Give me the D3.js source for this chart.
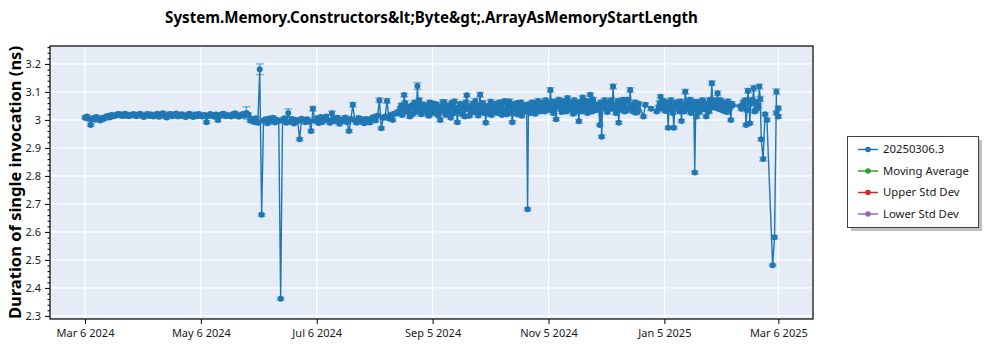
<!DOCTYPE html>
<html>
<head>
<meta charset="utf-8">
<script src="https://cdn.jsdelivr.net/npm/d3@7"></script>
<style>
  html, body { margin: 0; padding: 0; background: #ffffff; }
  svg { display: block; font-family: "Noto Sans", "Open Sans", "DejaVu Sans", sans-serif; }
</style>
</head>
<body>
<svg id="chart" width="1000" height="350"></svg>
<script>
// ---- chart text ----
const chartTitle = "System.Memory.Constructors&lt;Byte&gt;.ArrayAsMemoryStartLength";
const yAxisTitle = "Duration of single invocation (ns)";
const legendLabels = ["20250306.3", "Moving Average", "Upper Std Dev", "Lower Std Dev"];
const legendColors = ["#1f77b4", "#2ca02c", "#d62728", "#9467bd"];

// ---- axis ticks ----
const xTickDates = ["2024-03-06", "2024-05-06", "2024-07-06", "2024-09-05", "2024-11-05", "2025-01-05", "2025-03-06"];
const yTickValues = [2.3, 2.4, 2.5, 2.6, 2.7, 2.8, 2.9, 3.0, 3.1, 3.2];

// ---- morning benchmark runs: date, mean duration (ns), error (ns); one line per month ----
const runDates = [
  "2024-03-06","2024-03-07","2024-03-08","2024-03-09","2024-03-10","2024-03-11","2024-03-12","2024-03-13","2024-03-14","2024-03-15","2024-03-16","2024-03-17","2024-03-18","2024-03-19","2024-03-20","2024-03-21","2024-03-22","2024-03-23","2024-03-24","2024-03-25","2024-03-26","2024-03-27","2024-03-28","2024-03-29","2024-03-30","2024-03-31",
  "2024-04-01","2024-04-02","2024-04-03","2024-04-04","2024-04-05","2024-04-06","2024-04-07","2024-04-08","2024-04-09","2024-04-10","2024-04-11","2024-04-12","2024-04-13","2024-04-14","2024-04-15","2024-04-16","2024-04-17","2024-04-18","2024-04-19","2024-04-20","2024-04-21","2024-04-22","2024-04-23","2024-04-24","2024-04-25","2024-04-26","2024-04-27","2024-04-28","2024-04-29","2024-04-30",
  "2024-05-01","2024-05-02","2024-05-03","2024-05-04","2024-05-05","2024-05-06","2024-05-07","2024-05-08","2024-05-09","2024-05-10","2024-05-11","2024-05-12","2024-05-13","2024-05-14","2024-05-15","2024-05-16","2024-05-17","2024-05-18","2024-05-19","2024-05-20","2024-05-21","2024-05-22","2024-05-23","2024-05-24","2024-05-25","2024-05-26","2024-05-27","2024-05-28","2024-05-29","2024-05-30","2024-05-31",
  "2024-06-01","2024-06-02","2024-06-03","2024-06-04","2024-06-05","2024-06-06","2024-06-07","2024-06-08","2024-06-09","2024-06-10","2024-06-11","2024-06-12","2024-06-13","2024-06-14","2024-06-15","2024-06-16","2024-06-17","2024-06-18","2024-06-19","2024-06-20","2024-06-21","2024-06-22","2024-06-23","2024-06-24","2024-06-25","2024-06-26","2024-06-27","2024-06-28","2024-06-29","2024-06-30",
  "2024-07-01","2024-07-02","2024-07-03","2024-07-04","2024-07-05","2024-07-06","2024-07-07","2024-07-08","2024-07-09","2024-07-10","2024-07-11","2024-07-12","2024-07-13","2024-07-14","2024-07-15","2024-07-16","2024-07-17","2024-07-18","2024-07-19","2024-07-20","2024-07-21","2024-07-22","2024-07-23","2024-07-24","2024-07-25","2024-07-26","2024-07-27","2024-07-28","2024-07-29","2024-07-30","2024-07-31",
  "2024-08-01","2024-08-02","2024-08-03","2024-08-04","2024-08-05","2024-08-06","2024-08-07","2024-08-08","2024-08-09","2024-08-10","2024-08-11","2024-08-12","2024-08-13","2024-08-14","2024-08-15","2024-08-16","2024-08-17","2024-08-18","2024-08-19","2024-08-20","2024-08-21","2024-08-22","2024-08-23","2024-08-24","2024-08-25","2024-08-26","2024-08-27","2024-08-28","2024-08-29","2024-08-30","2024-08-31",
  "2024-09-01","2024-09-02","2024-09-03","2024-09-04","2024-09-05","2024-09-06","2024-09-07","2024-09-08","2024-09-09","2024-09-10","2024-09-11","2024-09-12","2024-09-13","2024-09-14","2024-09-15","2024-09-16","2024-09-17","2024-09-18","2024-09-19","2024-09-20","2024-09-21","2024-09-22","2024-09-23","2024-09-24","2024-09-25","2024-09-26","2024-09-27","2024-09-28","2024-09-29","2024-09-30",
  "2024-10-01","2024-10-02","2024-10-03","2024-10-04","2024-10-05","2024-10-06","2024-10-07","2024-10-08","2024-10-09","2024-10-10","2024-10-11","2024-10-12","2024-10-13","2024-10-14","2024-10-15","2024-10-16","2024-10-17","2024-10-18","2024-10-19","2024-10-20","2024-10-21","2024-10-22","2024-10-23","2024-10-24","2024-10-25","2024-10-26","2024-10-27","2024-10-28","2024-10-29","2024-10-30","2024-10-31",
  "2024-11-01","2024-11-02","2024-11-03","2024-11-04","2024-11-05","2024-11-06","2024-11-07","2024-11-08","2024-11-09","2024-11-10","2024-11-11","2024-11-12","2024-11-13","2024-11-14","2024-11-15","2024-11-16","2024-11-17","2024-11-18","2024-11-19","2024-11-20","2024-11-21","2024-11-22","2024-11-23","2024-11-24","2024-11-25","2024-11-26","2024-11-27","2024-11-28","2024-11-29","2024-11-30",
  "2024-12-01","2024-12-02","2024-12-03","2024-12-04","2024-12-05","2024-12-06","2024-12-07","2024-12-08","2024-12-09","2024-12-10","2024-12-11","2024-12-12","2024-12-13","2024-12-14","2024-12-15","2024-12-16","2024-12-17","2024-12-18","2024-12-19","2024-12-20","2024-12-21","2024-12-22","2024-12-25","2024-12-26","2024-12-29",
  "2025-01-01","2025-01-02","2025-01-03","2025-01-04","2025-01-05","2025-01-06","2025-01-07","2025-01-08","2025-01-09","2025-01-10","2025-01-11","2025-01-12","2025-01-13","2025-01-14","2025-01-15","2025-01-16","2025-01-17","2025-01-18","2025-01-19","2025-01-20","2025-01-21","2025-01-22","2025-01-23","2025-01-24","2025-01-25","2025-01-26","2025-01-27","2025-01-28","2025-01-29","2025-01-30","2025-01-31",
  "2025-02-01","2025-02-02","2025-02-03","2025-02-04","2025-02-05","2025-02-06","2025-02-07","2025-02-08","2025-02-09","2025-02-10","2025-02-14","2025-02-15","2025-02-16","2025-02-17","2025-02-18","2025-02-19","2025-02-20","2025-02-21","2025-02-22","2025-02-23","2025-02-24","2025-02-25","2025-02-26","2025-02-27","2025-02-28",
  "2025-03-03","2025-03-04","2025-03-05","2025-03-05","2025-03-06","2025-03-06"
];
const runMeans = [
  3.008,3.012,3.003,2.982,3.006,3.001,3.010,3.004,2.998,3.007,3.004,3.011,3.014,3.009,3.018,3.013,3.015,3.020,3.021,3.016,3.014,3.022,3.019,3.013,3.016,3.020,
  3.020,3.013,3.018,3.022,3.015,3.010,3.017,3.021,3.014,3.019,3.012,3.016,3.022,3.011,3.018,3.024,3.015,3.009,3.019,3.021,3.013,3.017,3.023,3.012,3.016,3.020,3.014,3.010,3.018,3.022,
  3.015,3.010,3.019,3.013,3.021,3.016,3.012,3.018,2.992,3.014,3.021,3.017,3.011,3.019,3.000,3.015,3.020,3.022,3.013,3.017,3.016,3.012,3.020,3.024,3.015,3.011,3.018,3.021,3.016,3.025,3.019,
  2.998,3.004,2.993,3.006,2.990,3.181,2.661,2.997,3.002,2.988,3.005,2.995,3.008,2.991,3.001,2.996,2.361,2.999,3.006,2.990,3.025,2.994,3.003,2.987,3.000,2.995,2.931,3.004,2.998,2.992,
  3.002,2.994,2.960,3.040,2.997,3.006,2.989,3.010,2.993,3.004,3.012,2.998,2.990,3.024,3.004,2.995,3.008,2.986,3.001,2.996,3.009,2.992,2.960,3.003,3.054,2.998,2.990,3.007,2.994,3.002,2.988,
  3.003,2.996,2.991,3.006,3.010,2.998,3.015,3.070,2.970,3.008,3.012,3.068,3.005,3.018,3.000,3.022,3.024,3.030,3.040,3.018,3.089,3.046,3.032,3.012,3.045,3.055,3.028,3.121,3.070,3.020,3.036,
  3.030,3.048,3.015,3.022,3.058,3.034,3.055,3.026,3.000,3.041,3.062,3.018,3.037,3.049,3.060,3.024,3.028,2.992,3.045,3.033,3.052,3.012,3.088,3.040,3.026,3.058,3.030,3.052,3.016,3.090,
  3.042,3.025,2.990,3.050,3.036,3.018,3.058,3.044,3.025,3.062,3.047,3.030,3.068,3.020,3.031,3.055,2.992,3.039,3.044,3.060,3.027,3.015,3.053,3.035,2.681,3.048,3.040,3.058,3.022,3.035,3.050,
  3.046,3.062,3.030,3.041,3.058,3.107,3.040,3.066,3.002,3.050,3.064,3.028,3.035,3.056,3.078,3.044,3.050,3.022,3.028,3.060,2.995,3.048,3.080,3.036,3.044,3.065,3.090,3.030,3.038,3.055,
  3.052,2.982,2.940,3.045,3.060,3.028,3.038,3.070,3.119,3.042,3.046,2.990,3.058,3.072,3.030,3.034,3.064,3.107,3.040,3.048,3.026,3.030,3.012,3.054,3.040,
  3.030,3.046,3.083,3.055,3.050,3.062,2.972,3.038,3.044,2.972,3.058,3.062,3.030,2.996,3.048,3.101,3.066,3.040,3.025,3.066,2.812,3.012,3.050,3.055,3.070,3.038,3.012,3.046,3.072,3.131,3.044,
  3.048,3.095,3.058,3.036,3.062,3.060,3.028,3.040,3.000,3.052,3.050,3.044,3.045,2.982,3.104,2.988,3.066,3.113,3.035,3.042,3.119,2.931,2.860,3.020,3.000,
  2.481,2.581,3.101,3.025,3.042,3.012
];
const runErrors = [
  0.005,0.006,0.005,0.004,0.006,0.005,0.006,0.005,0.006,0.005,0.006,0.005,0.006,0.005,0.006,0.005,0.006,0.005,0.006,0.005,0.006,0.005,0.006,0.005,0.006,0.005,
  0.006,0.005,0.006,0.005,0.006,0.005,0.006,0.007,0.005,0.006,0.005,0.006,0.005,0.006,0.005,0.006,0.005,0.006,0.005,0.006,0.005,0.006,0.005,0.006,0.005,0.006,0.005,0.006,0.005,0.006,
  0.006,0.005,0.006,0.005,0.006,0.005,0.006,0.005,0.005,0.006,0.005,0.006,0.005,0.006,0.006,0.005,0.006,0.005,0.006,0.005,0.006,0.005,0.006,0.005,0.006,0.005,0.006,0.005,0.007,0.022,0.006,
  0.006,0.005,0.006,0.005,0.006,0.019,0.005,0.006,0.005,0.006,0.005,0.006,0.005,0.006,0.005,0.006,0.005,0.006,0.005,0.006,0.015,0.005,0.006,0.005,0.006,0.005,0.005,0.006,0.005,0.006,
  0.006,0.005,0.005,0.008,0.006,0.005,0.006,0.005,0.006,0.005,0.006,0.005,0.006,0.007,0.005,0.006,0.005,0.006,0.005,0.006,0.005,0.006,0.005,0.006,0.008,0.006,0.005,0.006,0.005,0.006,0.005,
  0.006,0.005,0.006,0.005,0.006,0.005,0.006,0.008,0.005,0.006,0.005,0.008,0.005,0.006,0.005,0.007,0.006,0.006,0.007,0.006,0.006,0.007,0.006,0.006,0.007,0.007,0.006,0.012,0.008,0.006,0.006,
  0.006,0.007,0.006,0.005,0.008,0.006,0.008,0.006,0.006,0.007,0.008,0.005,0.006,0.007,0.008,0.006,0.006,0.005,0.007,0.006,0.007,0.006,0.006,0.007,0.006,0.008,0.006,0.007,0.006,0.008,
  0.007,0.006,0.005,0.007,0.006,0.006,0.008,0.007,0.006,0.008,0.007,0.006,0.006,0.006,0.006,0.008,0.005,0.006,0.007,0.008,0.006,0.006,0.007,0.006,0.005,0.007,0.006,0.008,0.006,0.006,0.007,
  0.007,0.008,0.006,0.006,0.007,0.008,0.006,0.008,0.005,0.007,0.008,0.006,0.006,0.007,0.007,0.006,0.006,0.006,0.005,0.008,0.006,0.007,0.007,0.006,0.006,0.008,0.006,0.006,0.006,0.007,
  0.007,0.005,0.005,0.006,0.007,0.006,0.006,0.008,0.008,0.006,0.006,0.005,0.007,0.007,0.006,0.006,0.008,0.008,0.006,0.006,0.006,0.005,0.005,0.006,0.006,
  0.005,0.006,0.006,0.007,0.007,0.008,0.005,0.006,0.006,0.005,0.007,0.007,0.006,0.005,0.006,0.008,0.007,0.006,0.006,0.008,0.005,0.006,0.007,0.007,0.008,0.006,0.005,0.006,0.007,0.008,0.006,
  0.006,0.008,0.007,0.006,0.008,0.007,0.006,0.006,0.005,0.004,0.004,0.006,0.006,0.005,0.008,0.005,0.007,0.010,0.006,0.006,0.008,0.005,0.006,0.006,0.005,
  0.004,0.006,0.010,0.006,0.006,0.006
];

// ---- afternoon benchmark runs (second build of the day), from mid-August on ----
const pmRunDates = [
  "2024-08-18","2024-08-19","2024-08-20","2024-08-21","2024-08-22","2024-08-23","2024-08-24","2024-08-25","2024-08-26","2024-08-27","2024-08-28","2024-08-29","2024-08-30","2024-08-31",
  "2024-09-01","2024-09-02","2024-09-03","2024-09-04","2024-09-05","2024-09-06","2024-09-07","2024-09-08","2024-09-09","2024-09-10","2024-09-11","2024-09-12","2024-09-13","2024-09-14","2024-09-15","2024-09-16","2024-09-17","2024-09-18","2024-09-19","2024-09-20","2024-09-21","2024-09-22","2024-09-23","2024-09-24","2024-09-25","2024-09-26","2024-09-27","2024-09-28","2024-09-29","2024-09-30",
  "2024-10-01","2024-10-02","2024-10-03","2024-10-04","2024-10-05","2024-10-06","2024-10-07","2024-10-08","2024-10-09","2024-10-10","2024-10-11","2024-10-12","2024-10-13","2024-10-14","2024-10-15","2024-10-16","2024-10-17","2024-10-18","2024-10-19","2024-10-20","2024-10-21","2024-10-22","2024-10-23","2024-10-24","2024-10-25","2024-10-26","2024-10-27","2024-10-28","2024-10-29","2024-10-30","2024-10-31",
  "2024-11-01","2024-11-02","2024-11-03","2024-11-04","2024-11-05","2024-11-06","2024-11-07","2024-11-08","2024-11-09","2024-11-10","2024-11-11","2024-11-12","2024-11-13","2024-11-14","2024-11-15","2024-11-16","2024-11-17","2024-11-18","2024-11-19","2024-11-20","2024-11-21","2024-11-22","2024-11-23","2024-11-24","2024-11-25","2024-11-26","2024-11-27","2024-11-28","2024-11-29","2024-11-30",
  "2024-12-01","2024-12-02","2024-12-03","2024-12-04","2024-12-05","2024-12-06","2024-12-07","2024-12-08","2024-12-09","2024-12-10","2024-12-11","2024-12-12","2024-12-13","2024-12-14","2024-12-15","2024-12-16","2024-12-17","2024-12-18","2024-12-19","2024-12-20","2024-12-21","2024-12-22",
  "2025-01-02","2025-01-03","2025-01-04","2025-01-05","2025-01-06","2025-01-07","2025-01-08","2025-01-09","2025-01-10","2025-01-11","2025-01-12","2025-01-13","2025-01-14","2025-01-15","2025-01-16","2025-01-17","2025-01-18","2025-01-19","2025-01-20","2025-01-21","2025-01-22","2025-01-23","2025-01-24","2025-01-25","2025-01-26","2025-01-27","2025-01-28","2025-01-29","2025-01-30","2025-01-31",
  "2025-02-01","2025-02-02","2025-02-03","2025-02-04","2025-02-05","2025-02-06","2025-02-07","2025-02-08","2025-02-09",
  "2025-02-14","2025-02-15","2025-02-16","2025-02-17","2025-02-18","2025-02-19","2025-02-20","2025-02-21","2025-02-22","2025-02-23","2025-02-24"
];
const pmRunMeans = [
  3.025,3.052,3.038,3.060,3.028,3.044,3.050,3.020,3.062,3.035,3.058,3.042,3.030,3.055,
  3.045,3.020,3.062,3.040,3.028,3.056,3.018,3.048,3.035,3.064,3.025,3.052,3.030,3.008,3.045,3.066,3.040,3.032,3.058,3.020,3.036,3.062,3.044,3.015,3.050,3.038,3.068,3.025,3.046,3.030,
  3.060,3.035,3.048,3.022,3.065,3.040,3.028,3.055,3.045,3.030,3.018,3.064,3.038,3.052,3.066,3.025,3.046,3.058,3.020,3.040,3.062,3.050,3.030,3.045,3.056,3.025,3.062,3.035,3.050,3.068,3.030,
  3.060,3.040,3.070,3.052,3.035,3.064,3.025,3.048,3.058,3.072,3.038,3.055,3.068,3.030,3.046,3.062,3.035,3.070,3.052,3.040,3.064,3.030,3.056,3.068,3.025,3.048,3.060,3.072,3.042,3.035,
  3.040,3.062,3.050,3.070,3.035,3.058,3.066,3.042,3.052,3.025,3.068,3.048,3.036,3.055,3.064,3.072,3.040,3.050,3.030,3.062,3.045,3.058,
  3.060,3.040,3.068,3.032,3.055,3.045,3.070,3.025,3.050,3.062,3.038,3.066,3.052,3.030,3.058,3.046,3.072,3.035,3.055,3.040,3.064,3.028,3.050,3.066,3.042,3.058,3.030,3.062,3.048,3.070,
  3.062,3.040,3.070,3.050,3.032,3.055,3.066,3.045,3.058,
  3.040,3.062,3.070,3.035,3.066,3.058,3.072,3.030,3.064,3.050,3.075
];
const pmRunErrors = [
  0.006,0.007,0.006,0.008,0.006,0.007,0.006,0.005,0.008,0.006,0.007,0.006,0.006,0.007,
  0.006,0.005,0.008,0.006,0.006,0.007,0.005,0.007,0.006,0.008,0.006,0.007,0.006,0.005,0.006,0.008,0.006,0.006,0.007,0.005,0.006,0.008,0.006,0.005,0.007,0.006,0.008,0.006,0.007,0.006,
  0.008,0.006,0.007,0.005,0.008,0.006,0.006,0.007,0.006,0.006,0.005,0.008,0.006,0.007,0.008,0.006,0.006,0.007,0.005,0.006,0.008,0.007,0.006,0.006,0.007,0.006,0.008,0.006,0.007,0.008,0.006,
  0.007,0.006,0.008,0.007,0.006,0.008,0.006,0.006,0.007,0.008,0.006,0.007,0.008,0.006,0.006,0.008,0.006,0.008,0.007,0.006,0.008,0.006,0.007,0.008,0.006,0.006,0.007,0.008,0.006,0.006,
  0.006,0.008,0.007,0.008,0.006,0.007,0.008,0.006,0.007,0.006,0.008,0.006,0.006,0.007,0.008,0.008,0.006,0.007,0.006,0.008,0.006,0.007,
  0.008,0.006,0.008,0.006,0.007,0.006,0.008,0.006,0.007,0.008,0.006,0.008,0.007,0.006,0.007,0.006,0.008,0.006,0.007,0.006,0.008,0.006,0.007,0.008,0.006,0.007,0.006,0.008,0.006,0.008,
  0.008,0.006,0.008,0.007,0.006,0.007,0.008,0.006,0.007,
  0.006,0.008,0.008,0.006,0.008,0.007,0.008,0.006,0.008,0.007,0.009
];

// ---- layout ----
const plotLeft = 50, plotRight = 813, plotTop = 46, plotBottom = 319;
const seriesColor = legendColors[0];

const parseDay = d3.utcParse("%Y-%m-%d");
const amRuns = runDates.map((d, i) => ({ date: parseDay(d), mean: runMeans[i], err: runErrors[i] }));
// afternoon builds are stamped at noon of their day
const pmRuns = pmRunDates.map((d, i) => ({ date: d3.utcHour.offset(parseDay(d), 12), mean: pmRunMeans[i], err: pmRunErrors[i] }));
const runs = amRuns.concat(pmRuns)
  .map((r, i) => ({ ...r, order: i }))
  .sort((a, b) => (a.date - b.date) || (a.order - b.order));

const x = d3.scaleUtc()
  .domain([new Date(Date.UTC(2024, 1, 16, 14)), new Date(Date.UTC(2025, 2, 24, 6))])
  .range([plotLeft, plotRight]);
const y = d3.scaleLinear()
  .domain([2.289, 3.264])
  .range([plotBottom, plotTop]);

const svg = d3.select("#chart");

// plot background
svg.append("rect")
  .attr("x", plotLeft).attr("y", plotTop)
  .attr("width", plotRight - plotLeft).attr("height", plotBottom - plotTop)
  .attr("fill", "#e5ecf6");

// grid lines
const grid = svg.append("g").attr("stroke", "#ffffff").attr("stroke-width", 1.2);
grid.selectAll("line.h").data(yTickValues).join("line")
  .attr("class", "h")
  .attr("x1", plotLeft).attr("x2", plotRight)
  .attr("y1", d => y(d)).attr("y2", d => y(d));
grid.selectAll("line.v").data(xTickDates).join("line")
  .attr("class", "v")
  .attr("y1", plotTop).attr("y2", plotBottom)
  .attr("x1", d => x(parseDay(d))).attr("x2", d => x(parseDay(d)));

// clip for the data layer
svg.append("clipPath").attr("id", "plot-clip")
  .append("rect")
  .attr("x", plotLeft).attr("y", plotTop)
  .attr("width", plotRight - plotLeft).attr("height", plotBottom - plotTop);
const dataLayer = svg.append("g").attr("clip-path", "url(#plot-clip)");

// connecting line
dataLayer.append("path")
  .datum(runs)
  .attr("fill", "none")
  .attr("stroke", seriesColor)
  .attr("stroke-width", 1.4)
  .attr("d", d3.line().x(d => x(d.date)).y(d => y(d.mean)));

// error bars with caps
const capHalf = 4;
const bars = dataLayer.append("g")
  .attr("stroke", seriesColor)
  .attr("stroke-opacity", 0.5)
  .attr("stroke-width", 1.5);
bars.selectAll("line.stem").data(runs).join("line")
  .attr("class", "stem")
  .attr("x1", d => x(d.date)).attr("x2", d => x(d.date))
  .attr("y1", d => y(d.mean - d.err)).attr("y2", d => y(d.mean + d.err));
bars.selectAll("line.capTop").data(runs).join("line")
  .attr("class", "capTop")
  .attr("x1", d => x(d.date) - capHalf).attr("x2", d => x(d.date) + capHalf)
  .attr("y1", d => y(d.mean + d.err)).attr("y2", d => y(d.mean + d.err));
bars.selectAll("line.capBot").data(runs).join("line")
  .attr("class", "capBot")
  .attr("x1", d => x(d.date) - capHalf).attr("x2", d => x(d.date) + capHalf)
  .attr("y1", d => y(d.mean - d.err)).attr("y2", d => y(d.mean - d.err));

// markers
dataLayer.append("g").selectAll("circle").data(runs).join("circle")
  .attr("cx", d => x(d.date))
  .attr("cy", d => y(d.mean))
  .attr("r", 3)
  .attr("fill", seriesColor);

// axes
const yAxis = svg.append("g")
  .attr("transform", `translate(${plotLeft},0)`)
  .call(d3.axisLeft(y).tickValues(yTickValues).tickSize(5).tickPadding(4).tickFormat(d3.format("")));
const yMinor = d3.range(2.3, 3.27, 0.02)
  .map(v => +v.toFixed(2))
  .filter(v => !yTickValues.some(t => Math.abs(t - v) < 1e-6) && v <= 3.264);
svg.append("g")
  .attr("transform", `translate(${plotLeft},0)`)
  .call(d3.axisLeft(y).tickValues(yMinor).tickSize(2.5).tickFormat(""))
  .call(g => g.select(".domain").remove());

const xAxis = svg.append("g")
  .attr("transform", `translate(0,${plotBottom})`)
  .call(d3.axisBottom(x)
    .tickValues(xTickDates.map(parseDay))
    .tickSize(5).tickPadding(5)
    .tickFormat(d3.utcFormat("%b %-d %Y")));

[xAxis, yAxis].forEach(g => {
  g.select(".domain").remove();
  g.selectAll("text").attr("font-size", 11).attr("fill", "#1a1a1a")
    .attr("font-family", '"Noto Sans", "Open Sans", sans-serif');
});
svg.selectAll(".tick line").attr("stroke", "#000");

// plot frame
svg.append("rect")
  .attr("x", plotLeft).attr("y", plotTop)
  .attr("width", plotRight - plotLeft).attr("height", plotBottom - plotTop)
  .attr("fill", "none").attr("stroke", "#000").attr("stroke-width", 1.2);

// fit a text element to a target width by adjusting its font size
function fitWidth(sel, target) {
  const node = sel.node();
  const fs = parseFloat(sel.attr("font-size"));
  const w = node.getComputedTextLength();
  if (w > 0) sel.attr("font-size", (fs * target / w).toFixed(2));
  return parseFloat(sel.attr("font-size"));
}

// title
const title = svg.append("text")
  .attr("x", (plotLeft + plotRight) / 2).attr("y", 23)
  .attr("text-anchor", "middle")
  .attr("font-size", 15).attr("font-weight", "bold").attr("fill", "#000")
  .text(chartTitle);
fitWidth(title, 533);

// y axis title
const yTitle = svg.append("text")
  .attr("transform", `translate(21,${(plotTop + plotBottom) / 2}) rotate(-90)`)
  .attr("text-anchor", "middle")
  .attr("font-size", 17).attr("font-weight", "bold").attr("fill", "#000")
  .text(yAxisTitle);
fitWidth(yTitle, 273);

// legend
const lg = svg.append("g");
lg.append("rect")
  .attr("x", 851).attr("y", 140).attr("width", 131).attr("height", 91)
  .attr("fill", "#8c8c8c").attr("fill-opacity", 0.55);
lg.append("rect")
  .attr("x", 847.5).attr("y", 136.5).attr("width", 131).attr("height", 91)
  .attr("fill", "#ffffff").attr("stroke", "#404040").attr("stroke-width", 1);
const items = lg.selectAll("g.item").data(legendLabels).join("g")
  .attr("class", "item")
  .attr("transform", (d, i) => `translate(0,${149.5 + i * 21.5})`);
items.append("line")
  .attr("x1", 858).attr("x2", 878).attr("y1", 0).attr("y2", 0)
  .attr("stroke", (d, i) => legendColors[i]).attr("stroke-width", 1.5);
items.append("circle")
  .attr("cx", 868).attr("cy", 0).attr("r", 2.8)
  .attr("fill", (d, i) => legendColors[i]);
const legendText = items.append("text")
  .attr("x", 883).attr("y", 0).attr("dy", "0.35em")
  .attr("font-size", 12).attr("fill", "#1a1a1a")
  .text(d => d);
// size the legend font so the widest entry spans the same width as in the box layout
const widest = legendText.filter(d => d === "Moving Average");
const legendFont = fitWidth(widest, 86);
legendText.attr("font-size", legendFont);
</script>
</body>
</html>
